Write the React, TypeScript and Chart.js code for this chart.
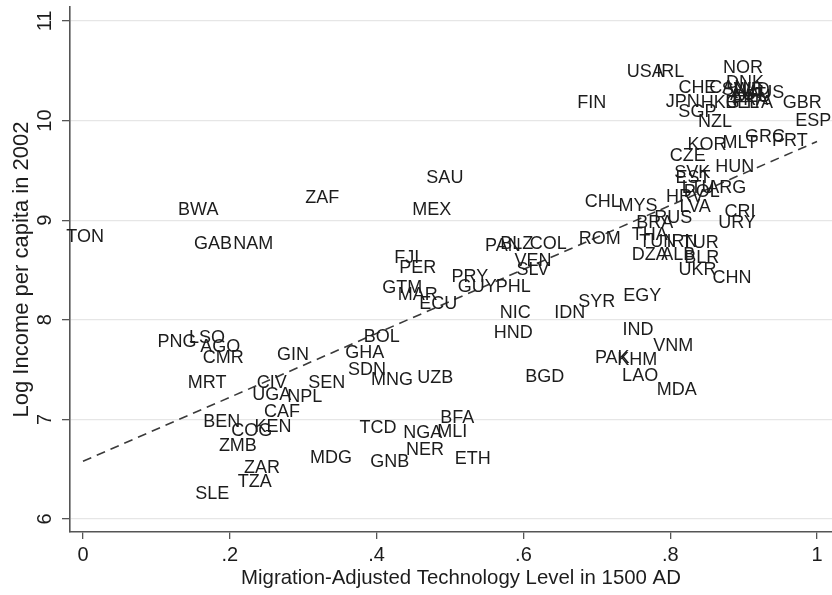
import React, { useEffect, useRef } from "react";
import { Chart, registerables } from "chart.js";

Chart.register(...registerables);

const countries = [
  "USA", "IRL", "NOR", "DNK", "CHE", "CAN", "SWE", "NLD", "AUT", "AUS",
  "JPN", "HKG", "BEL", "FRA", "DEU", "ITA", "GBR", "FIN", "SGP", "NZL",
  "ESP", "KOR", "MLT", "GRC", "PRT", "CZE", "HUN", "SVK", "EST", "HRV",
  "POL", "LTU", "ARG", "LVA", "CHL", "MYS", "CRI", "RUS", "BRA", "URY",
  "ROM", "THA", "TUN", "IRN", "TUR", "DZA", "ALB", "BLR", "UKR", "CHN",
  "EGY", "SYR", "IDN", "IND", "VNM", "PAK", "KHM", "LAO", "MDA", "BGD",
  "SAU", "ZAF", "BWA", "MEX", "TON", "GAB", "NAM", "FJI", "PER", "GTM",
  "MAR", "ECU", "PRY", "GUY", "PHL", "PAN", "BLZ", "COL", "VEN", "SLV",
  "NIC", "HND", "BOL", "PNG", "LSO", "AGO", "CMR", "GIN", "GHA", "SDN",
  "MNG", "UZB", "MRT", "CIV", "SEN", "UGA", "NPL", "CAF", "BEN", "KEN",
  "COG", "ZMB", "ZAR", "TZA", "SLE", "MDG", "TCD", "GNB", "NGA", "MLI",
  "BFA", "NER", "ETH",
];

const techLevel = [
  0.766, 0.800, 0.899, 0.902, 0.837, 0.879, 0.898, 0.911, 0.906, 0.930,
  0.817, 0.868, 0.898, 0.909, 0.911, 0.922, 0.980, 0.693, 0.837, 0.861,
  0.995, 0.850, 0.895, 0.929, 0.963, 0.824, 0.888, 0.830, 0.831, 0.820,
  0.843, 0.838, 0.877, 0.834, 0.708, 0.756, 0.895, 0.804, 0.779, 0.891,
  0.704, 0.772, 0.783, 0.816, 0.841, 0.772, 0.811, 0.843, 0.837, 0.884,
  0.762, 0.700, 0.663, 0.756, 0.804, 0.721, 0.755, 0.759, 0.809, 0.629,
  0.493, 0.326, 0.157, 0.475, 0.003, 0.177, 0.232, 0.441, 0.456, 0.435,
  0.456, 0.484, 0.527, 0.537, 0.586, 0.572, 0.591, 0.634, 0.613, 0.613,
  0.589, 0.586, 0.407, 0.128, 0.169, 0.187, 0.191, 0.286, 0.384, 0.387,
  0.421, 0.480, 0.169, 0.257, 0.332, 0.257, 0.302, 0.271, 0.189, 0.259,
  0.230, 0.211, 0.244, 0.234, 0.176, 0.338, 0.402, 0.418, 0.463, 0.503,
  0.510, 0.466, 0.531,
];

const logIncome = [
  10.488, 10.488, 10.528, 10.378, 10.327, 10.327, 10.307, 10.307, 10.257, 10.277,
  10.187, 10.177, 10.177, 10.207, 10.237, 10.177, 10.177, 10.177, 10.086, 9.986,
  9.996, 9.755, 9.775, 9.835, 9.795, 9.645, 9.534, 9.474, 9.424, 9.233,
  9.283, 9.323, 9.323, 9.133, 9.183, 9.143, 9.082, 9.022, 8.972, 8.972,
  8.811, 8.851, 8.781, 8.781, 8.771, 8.651, 8.651, 8.620, 8.500, 8.420,
  8.239, 8.179, 8.068, 7.898, 7.737, 7.617, 7.596, 7.436, 7.295, 7.426,
  9.424, 9.223, 9.102, 9.102, 8.831, 8.761, 8.761, 8.620, 8.520, 8.319,
  8.249, 8.159, 8.430, 8.329, 8.329, 8.741, 8.761, 8.761, 8.590, 8.500,
  8.068, 7.867, 7.827, 7.777, 7.817, 7.727, 7.616, 7.647, 7.667, 7.496,
  7.396, 7.416, 7.365, 7.365, 7.365, 7.245, 7.225, 7.074, 6.974, 6.924,
  6.884, 6.733, 6.512, 6.371, 6.251, 6.612, 6.914, 6.572, 6.863, 6.873,
  7.014, 6.693, 6.602,
];

const fitX = [0, 1];
const fitY = [6.58, 9.79];

const xTicks = [0, 0.2, 0.4, 0.6, 0.8, 1];
const xTickLabels = ["0", ".2", ".4", ".6", ".8", "1"];
const yTicks = [6, 7, 8, 9, 10, 11];
const yTickLabels = ["6", "7", "8", "9", "10", "11"];

const xTitle = "Migration-Adjusted Technology Level in 1500 AD";
const yTitle = "Log Income per capita in 2002";

const FONT = '"Liberation Sans", Arial, Helvetica, sans-serif';

const textPlugin = {
  id: "textMarks",
  afterDatasetsDraw(chart: any) {
    const ctx = chart.ctx;
    const meta = chart.getDatasetMeta(1);
    ctx.save();
    ctx.fillStyle = "#1c1c1c";
    ctx.font = `18px ${FONT}`;
    ctx.textAlign = "center";
    ctx.textBaseline = "middle";
    meta.data.forEach((el: any, i: number) => {
      ctx.fillText(countries[i], el.x, el.y);
    });
    ctx.restore();
  },
  afterDraw(chart: any) {
    const ctx = chart.ctx;
    const xs = chart.scales.x;
    const ys = chart.scales.y;
    const area = chart.chartArea;
    ctx.save();
    ctx.fillStyle = "#1c1c1c";
    ctx.textAlign = "center";
    ctx.textBaseline = "middle";
    ctx.font = `20px ${FONT}`;
    xTicks.forEach((v, i) => {
      ctx.fillText(xTickLabels[i], xs.getPixelForValue(v), area.bottom + 23);
    });
    yTicks.forEach((v, i) => {
      ctx.save();
      ctx.translate(area.left - 25, ys.getPixelForValue(v));
      ctx.rotate(-Math.PI / 2);
      ctx.fillText(yTickLabels[i], 0, 0);
      ctx.restore();
    });
    ctx.font = `20.4px ${FONT}`;
    ctx.fillText(xTitle, (area.left + area.right) / 2 + 10, area.bottom + 46);
    ctx.save();
    ctx.font = `22px ${FONT}`;
    ctx.translate(area.left - 48, (area.top + area.bottom) / 2);
    ctx.rotate(-Math.PI / 2);
    ctx.fillText(yTitle, 0, 0);
    ctx.restore();
    ctx.restore();
  },
};

export default function App() {
  const ref = useRef<HTMLCanvasElement | null>(null);

  useEffect(() => {
    document.body.style.margin = "0";
    const canvas = ref.current;
    if (!canvas) return;
    const chart = new Chart(canvas, {
      type: "scatter",
      data: {
        datasets: [
          {
            type: "line",
            data: fitX.map((x, i) => ({ x, y: fitY[i] })),
            borderColor: "#3a3a3a",
            borderWidth: 1.6,
            borderDash: [9, 6],
            pointRadius: 0,
            fill: false,
          } as any,
          {
            data: countries.map((_, i) => ({ x: techLevel[i], y: logIncome[i] })),
            pointRadius: 0,
            pointHoverRadius: 0,
            backgroundColor: "transparent",
            borderColor: "transparent",
          },
        ],
      },
      options: {
        animation: false,
        responsive: false,
        devicePixelRatio: 1,
        layout: { padding: { top: 7, right: 0, left: 0, bottom: 0 } },
        plugins: { legend: { display: false }, tooltip: { enabled: false } },
        scales: {
          x: {
            type: "linear",
            min: -0.0177,
            max: 1.0204,
            afterBuildTicks: (s: any) => {
              s.ticks = xTicks.map((v) => ({ value: v }));
            },
            afterFit: (s: any) => {
              s.height = 63;
            },
            ticks: { display: false },
            grid: {
              drawOnChartArea: false,
              drawTicks: true,
              tickLength: 7,
              tickColor: "#555",
              color: "#555",
              lineWidth: 1.3,
            },
            border: { display: true, color: "#555", width: 1.6 },
          },
          y: {
            type: "linear",
            min: 5.87,
            max: 11.14,
            afterBuildTicks: (s: any) => {
              s.ticks = yTicks.map((v) => ({ value: v }));
            },
            afterFit: (s: any) => {
              s.width = 70;
            },
            ticks: { display: false },
            grid: {
              drawOnChartArea: true,
              drawTicks: true,
              tickLength: 8,
              color: "#e6e6e6",
              tickColor: "#555",
              lineWidth: 1.3,
            },
            border: { display: true, color: "#555", width: 1.6 },
          },
        },
      },
      plugins: [textPlugin],
    });
    return () => chart.destroy();
  }, []);

  return (
    <div style={{ width: 832, height: 595, background: "#fff" }}>
      <canvas ref={ref} width={832} height={595} style={{ display: "block" }} />
    </div>
  );
}
